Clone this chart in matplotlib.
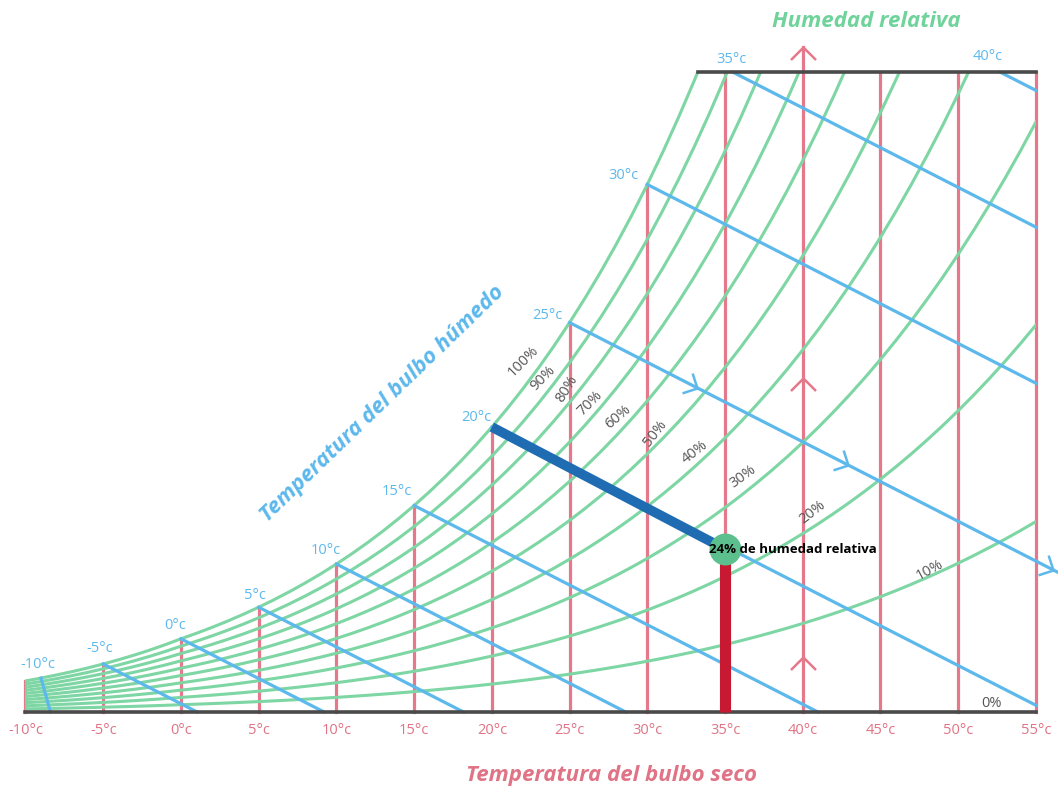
import numpy as np
import matplotlib.pyplot as plt
import matplotlib.patches as mpatches
from matplotlib.markers import MarkerStyle
from matplotlib.path import Path
from matplotlib.transforms import Affine2D

plt.rcParams['font.family'] = ['Open Sans', 'DejaVu Sans']

# saturation vapour pressure (kPa) along the 100% curve, every 1 C from -10 to 55
t_grid = list(range(-10, 56))
p_sat = [0.2600, 0.2842, 0.3102, 0.3382, 0.3685, 0.4017, 0.4375, 0.4760, 0.5177, 0.5627,
         0.6112, 0.6571, 0.7060, 0.7581, 0.8135, 0.8725, 0.9353, 1.0020, 1.0729, 1.1481,
         1.2280, 1.3128, 1.4026, 1.4979, 1.5987, 1.7055, 1.8185, 1.9380, 2.0643, 2.1979,
         2.3389, 2.4878, 2.6448, 2.8105, 2.9852, 3.1693, 3.3633, 3.5674, 3.7823, 4.0084,
         4.2462, 4.4961, 4.7586, 5.0345, 5.3242, 5.6280, 5.9468, 6.2812, 6.6315, 6.9988,
         7.3838, 7.7866, 8.2081, 8.6495, 9.1110, 9.5935, 10.098, 10.624, 11.175, 11.749,
         12.349, 12.974, 13.626, 14.305, 15.012, 15.752]
p_atm = 101.325

rh_levels = [1.0, 0.9, 0.8, 0.7, 0.6, 0.5, 0.4, 0.3, 0.2, 0.1]
rh_labels = ['100%', '90%', '80%', '70%', '60%', '50%', '40%', '30%', '20%', '10%']

dry_ticks = [-10, -5, 0, 5, 10, 15, 20, 25, 30, 35, 40, 45, 50, 55]
dry_labels = ['-10°c', '-5°c', '0°c', '5°c', '10°c', '15°c', '20°c', '25°c',
              '30°c', '35°c', '40°c', '45°c', '50°c', '55°c']

# wet bulb lines starting on the saturation curve
wb_temps = [-10, -5, 0, 5, 10, 15, 20, 25, 30]
wb_start = [-9.0, -5, 0, 5, 10, 15, 20, 25, 30]
wb_slope = [-2.9, -0.41, -0.41, -0.41, -0.41, -0.41, -0.41, -0.41, -0.41]
# wet bulb lines starting on the top border
wb_top_temps = [35, 40]
wb_top_start = [35.5, 52.7]

w_top = 33.0          # upper border of the chart (g/kg)
point_t = 35          # dry bulb of the example
point_wb = 20         # wet bulb of the example
point_rh = 0.24

green = '#7dd6a3'
red = '#e5788a'
blue = '#5db8eb'
dark_blue = '#1f6cb3'
dark_red = '#c71a32'
grey = '#555555'


def w_of(rh, p):
    p = np.asarray(p) * rh
    return 622 * p / (p_atm - p)


t_grid = np.array(t_grid)
w_sat = w_of(1.0, p_sat)

fig = plt.figure(figsize=(10.58, 7.88), dpi=100)
ax = fig.add_axes([0, 0, 1, 1])
ax.set_xlim(-11.64, 56.42)
ax.set_ylim(-3.92, 36.72)
ax.axis('off')

clip = mpatches.Rectangle((-10, 0), 65, w_top, transform=ax.transData,
                          fill=False, lw=0)
ax.add_patch(clip)

# dry bulb verticals
for t in dry_ticks:
    top = min(np.interp(t, t_grid, w_sat), w_top)
    if t == 40:
        top = w_top + 1.3
    ax.plot([t, t], [0, top], color=red, lw=2.3, zorder=1)

# relative humidity curves
for rh in rh_levels:
    ln, = ax.plot(t_grid, w_of(rh, p_sat), color=green, lw=2.2, zorder=2)
    ln.set_clip_path(clip)

# wet bulb lines
end_w = {}
for tw, t0, s in zip(wb_temps, wb_start, wb_slope):
    w0 = np.interp(t0, t_grid, w_sat)
    t1 = min(t0 - w0 / s, 55)
    if tw == 25:
        t1 = 56.4
    ax.plot([t0, t1], [w0, w0 + s * (t1 - t0)], color=blue, lw=2.3, zorder=3)
    end_w[tw] = (t0, w0)
for tw, t0 in zip(wb_top_temps, wb_top_start):
    ax.plot([t0, 55], [w_top, w_top - 0.41 * (55 - t0)], color=blue, lw=2.3, zorder=3)
    end_w[tw] = (t0, w_top)

# borders
t_top = np.interp(w_top, w_sat, t_grid)
ax.plot([-10, 55], [0, 0], color='#4a4a4a', lw=2.6, zorder=4)
ax.plot([t_top, 55], [w_top, w_top], color='#4a4a4a', lw=2.6, zorder=4)

# example point
wp = w_of(point_rh, np.interp(point_t, t_grid, p_sat))
ax.plot([point_t, point_t], [0, wp], color=dark_red, lw=8, zorder=5,
        solid_capstyle='butt')
wb0 = np.interp(point_wb, t_grid, w_sat)
ax.plot([point_wb, point_t], [wb0, wp], color=dark_blue, lw=7, zorder=5,
        solid_capstyle='butt')
ax.plot(point_t, wp, 'o', ms=23, color='#5cc08e', mec='none', zorder=6)
ax.annotate('24% de humedad relativa', (point_t, wp), xytext=(-16, 0),
            textcoords='offset pixels', ha='left', va='center',
            fontsize=9.5, fontweight='bold', color='black', zorder=7)

# chevrons
chev = Path([(-1, 1), (0, 0), (-1, -1)],
            [Path.MOVETO, Path.LINETO, Path.LINETO])
up = MarkerStyle(chev, fillstyle='none', transform=Affine2D().rotate_deg(90))
ax.plot([40, 40, 40], [2.85, 17.2, w_top + 1.3], ls='none', marker=up, ms=18,
        mew=1.8, color=red, zorder=1)
t25, w25 = end_w[25]
p0 = ax.transData.transform((t25, w25))
p1 = ax.transData.transform((t25 + 1, w25 - 0.41))
ang = np.degrees(np.arctan2(p1[1] - p0[1], p1[0] - p0[0]))
right = MarkerStyle(chev, fillstyle='none', transform=Affine2D().rotate_deg(ang))
arrow_t = [33.2, 42.9, 56.1]
ax.plot(arrow_t, [w25 - 0.41 * (t - t25) for t in arrow_t], ls='none',
        marker=right, ms=16, mew=1.8, color=blue, zorder=3)

# labels
for t, lab in zip(dry_ticks, dry_labels):
    ax.text(t, -0.98, lab, ha='center', va='center', fontsize=10.5, color='#e07385')

wb_off = {-10: (-3, 14), -5: (-4, 15), 0: (-6, 13), 5: (-4, 12), 10: (-11, 14),
          15: (-17, 14), 20: (-16, 10), 25: (-22, 7), 30: (-24, 9), 35: (-1, 13),
          40: (-12, 16)}
for tw in wb_temps + wb_top_temps:
    ax.annotate('%d°c' % tw, end_w[tw], xytext=wb_off[tw], textcoords='offset pixels',
                ha='center', va='center', fontsize=10.5, color=blue)

rh_pos = [(22.0, 18.1), (23.29, 17.23), (24.83, 16.66), (26.31, 15.94),
          (28.11, 15.21), (30.49, 14.39), (33.06, 13.41), (36.15, 12.12),
          (40.65, 10.31), (48.18, 7.32)]
rh_rot = [45, 45, 58, 45, 40, 52, 38, 36, 38, 28]
for (x, y), lab, r in zip(rh_pos, rh_labels, rh_rot):
    ax.text(x, y, lab, rotation=r, ha='center', va='center', fontsize=10.5,
            color=grey, rotation_mode='anchor')
ax.text(52.17, 0.46, '0%', ha='center', va='center', fontsize=10.5, color=grey)

ax.text(44.06, 35.59, 'Humedad relativa', ha='center', va='center', fontsize=16,
        fontweight='bold', fontstyle='italic', color='#6fd39b')
ax.text(27.72, -3.30, 'Temperatura del bulbo seco', ha='center', va='center',
        fontsize=16, fontweight='bold', fontstyle='italic', color='#e07385')
ax.text(12.99, 15.88, 'Temperatura del bulbo húmedo', ha='center', va='center',
        rotation=44, rotation_mode='anchor', fontsize=16, fontweight='bold',
        fontstyle='italic', color=blue)

fig.savefig('out.png', dpi=100)
